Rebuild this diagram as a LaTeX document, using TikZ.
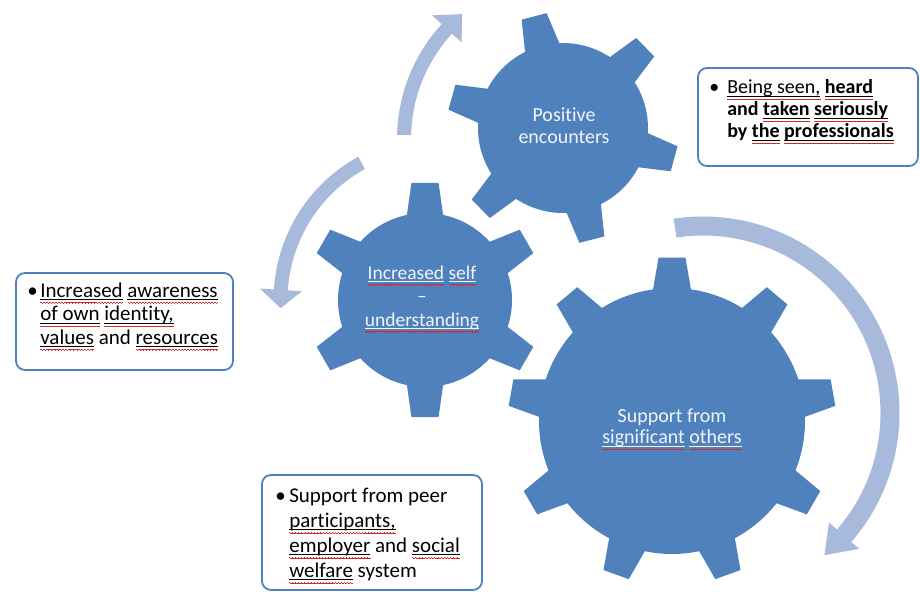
\documentclass[tikz,border=0pt]{standalone}
\usepackage{fontspec}
\setmainfont{Carlito}[Ligatures=NoCommon]
\usetikzlibrary{calc}

\definecolor{gearblue}{RGB}{79,129,189}
\definecolor{turnblue}{RGB}{168,186,219}
\definecolor{geartxt}{RGB}{242,244,248}
\definecolor{spellred}{RGB}{214,40,40}

% underline with a red spelling wave below it
\newcommand{\wavepiece}{\vrule width .75pt height -4.8pt depth 5.4pt\vrule width .75pt height -5.2pt depth 5.8pt\vrule width .75pt height -5.6pt depth 6.2pt\vrule width .75pt height -5.2pt depth 5.8pt}
\newcommand{\sq}[1]{\setbox0\hbox{#1}\rlap{\vrule height -2pt depth 3.1pt width \wd0}\rlap{\hbox to \wd0{\color{spellred}\xleaders\hbox{\wavepiece}\hfil}}\box0\relax}

\begin{document}
\begin{tikzpicture}[x=1pt,y=1pt,
		gear/.style={fill=gearblue},
		turnarrow/.style={fill=turnblue},
		geartext/.style={text=geartxt,align=center,inner sep=0pt},
		notebox/.style={draw=gearblue,line width=1.8pt,rounded corners=9pt,fill=white,inner sep=0pt},
		notetext/.style={anchor=north west,inner sep=0pt,text=black}]
		\path[fill=white] (0,0) rectangle (920,-594);
		% turning arrows
		\foreach \cx/\cy/\rad/\from/\to/\tip/\band/\head in {567/-139/163/178.6/137.5/130/7/20,437/-300/156.5/118.8/176.3/183/7/21,703/-413/187/98.6/-41/-49.5/9.5/20}{
			\fill[turnarrow] ($(\cx,\cy)+({\from}:{\rad+\band})$) arc[start angle=\from,end angle=\to,radius=\rad+\band]
			-- ($(\cx,\cy)+({\to}:{\rad+\head})$) -- ($(\cx,\cy)+({\tip}:{\rad})$) -- ($(\cx,\cy)+({\to}:{\rad-\head})$)
			-- ($(\cx,\cy)+({\to}:{\rad-\band})$) arc[start angle=\to,end angle=\from,radius=\rad-\band] -- cycle;
		};
		% gears
		\foreach \g/\gx/\gy/\n/\rbody/\rtip/\off/\baseang/\tipang in {meet/563/-128/6/85/116/104.5/12/6.4,self/425/-300/6/87/118/90/12/6.6,others/672/-421/9/133/164/90/8.2/4.7}{
			\pgfmathsetmacro{\gstep}{360/\n}
			\coordinate (\g) at (\gx,\gy);
			\fill[gear] ($(\g)+({\off-\baseang}:\rbody)$)
			\foreach \k in {1,...,\n}{
				-- ($(\g)+({\off+(\k-1)*\gstep-\tipang}:\rtip)$)
				-- ($(\g)+({\off+(\k-1)*\gstep+\tipang}:\rtip)$)
				-- ($(\g)+({\off+(\k-1)*\gstep+\baseang}:\rbody)$)
				arc[start angle={\off+(\k-1)*\gstep+\baseang},end angle={\off+\k*\gstep-\baseang},radius=\rbody]
			} -- cycle;
		};
		\node[geartext,font=\fontsize{20}{21.5}\selectfont] (meettext) at ($(meet)+(1,2.5)$) {Positive\\encounters};
		\node[geartext,font=\fontsize{19.5}{23.5}\selectfont] (selftext) at ($(self)+(-3,1)$) {\sq{Increased} \sq{self}\\--\\\sq{understanding}};
		\node[geartext,font=\fontsize{20}{21}\selectfont] (otherstext) at ($(others)+(0,-8.5)$) {Support from\\\sq{significant} \sq{others}};
		% notes
		\node[notebox,minimum width=220,minimum height=98] (seenbox) at (808,-117) {};
		\node[notetext,font=\fontsize{20}{22}\selectfont] (seentext) at ([shift={(12,-11)}]seenbox.north west) {\begin{tabular}{@{}p{18pt}@{}l@{}}
				\textbullet & \sq{Being seen,} \textbf{\sq{heard}}\\
				& \textbf{and \sq{taken} \sq{seriously}}\\
				& \textbf{by \sq{the} \sq{professionals}}
		\end{tabular}};
		\node[notebox,minimum width=217,minimum height=97] (awarebox) at (124.5,-321.5) {};
		\node[notetext,font=\fontsize{21}{23.5}\selectfont] (awaretext) at ([shift={(12,-8.5)}]awarebox.north west) {\begin{tabular}{@{}p{13pt}@{}l@{}}
				\textbullet & \sq{Increased} \sq{awareness}\\
				& \sq{of own} \sq{identity,}\\
				& \sq{values} and \sq{resources}
		\end{tabular}};
		\node[notebox,minimum width=220,minimum height=115] (peerbox) at (372,-532.5) {};
		\node[notetext,font=\fontsize{21}{25}\selectfont] (peertext) at ([shift={(14,-10.5)}]peerbox.north west) {\begin{tabular}{@{}p{14pt}@{}l@{}}
				\textbullet & Support from peer\\
				& \sq{participants,}\\
				& \sq{employer} and \sq{social}\\
				& \sq{welfare} system
		\end{tabular}};
	\end{tikzpicture}
\end{document}
